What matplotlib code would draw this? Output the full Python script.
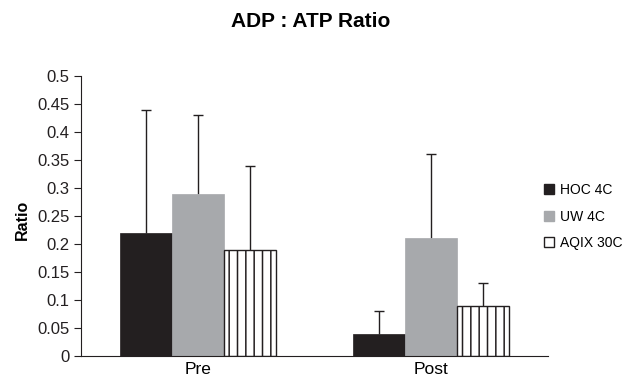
import numpy as np
import matplotlib
matplotlib.use("Agg")
import matplotlib.pyplot as plt
from matplotlib.patches import Patch

plt.rcParams.update({
    "font.family": ["Liberation Sans", "DejaVu Sans"],
    "font.size": 12,
    "hatch.linewidth": 1.1,
})

# ---------------------------------------------------------------------------
# Data
# ---------------------------------------------------------------------------
groups = ["Pre", "Post"]
series = ["HOC 4C", "UW 4C", "AQIX 30C"]
hoc = [0.22, 0.04]
uw = [0.29, 0.21]
aqix = [0.19, 0.09]
hoc_err = [0.22, 0.04]
uw_err = [0.14, 0.15]
aqix_err = [0.15, 0.04]

yticks = [0, 0.05, 0.1, 0.15, 0.2, 0.25, 0.3, 0.35, 0.4, 0.45, 0.5]
ytick_labels = ["0", "0.05", "0.1", "0.15", "0.2", "0.25", "0.3",
                "0.35", "0.4", "0.45", "0.5"]

dark = "#231f20"
grey = "#a7a9ac"

fig = plt.figure(figsize=(6.22, 3.82), dpi=100)
ax = fig.add_axes([0.130, 0.068, 0.751, 0.733])

x = np.arange(len(groups))
w = 0.223

ax.bar(x - w, hoc, w, color=dark, edgecolor=dark, linewidth=0.5,
       label=series[0], zorder=2)
ax.bar(x, uw, w, color=grey, edgecolor=grey, linewidth=0.5,
       label=series[1], zorder=2)
ax.bar(x + w, aqix, w, color="white", edgecolor=dark, linewidth=1.0,
       hatch="||", label=series[2], zorder=2)

# upper-only error bars, cap drawn just at the top
for xs, vals, errs in [(x - w, hoc, hoc_err), (x, uw, uw_err),
                       (x + w, aqix, aqix_err)]:
    vals = np.asarray(vals)
    errs = np.asarray(errs)
    ax.errorbar(xs, vals, yerr=[np.zeros_like(errs), errs], fmt="none",
                ecolor=dark, elinewidth=1.0, capsize=0, zorder=1)
    ax.plot(xs, vals + errs, ls="none", marker="_", ms=7.2, mew=1.0,
            color=dark, zorder=1)

ax.set_xlim(-0.5, 1.5)
ax.set_ylim(0, 0.5)
ax.set_xticks(x)
ax.set_xticklabels(groups, fontsize=12.5)
ax.tick_params(axis="x", length=0, pad=4)
ax.set_yticks(yticks)
ax.set_yticklabels(ytick_labels, fontsize=12)
ax.tick_params(axis="y", direction="out", length=5, width=0.8, pad=3,
               colors=dark)

for side in ["top", "right"]:
    ax.spines[side].set_visible(False)
ax.spines["left"].set_color(dark)
ax.spines["bottom"].set_color(dark)

ax.set_ylabel("Ratio", fontsize=11.5, fontweight="bold")
ax.yaxis.set_label_coords(-0.11, 0.486)

fig.suptitle("ADP : ATP Ratio", fontsize=15, fontweight="bold", y=0.968)

handles = [
    Patch(facecolor=dark, edgecolor=dark, label=series[0]),
    Patch(facecolor=grey, edgecolor=grey, label=series[1]),
    Patch(facecolor="white", edgecolor=dark, linewidth=1.0, label=series[2]),
]
fig.legend(handles=handles, loc="center left",
           bbox_to_anchor=(0.855, 0.433), frameon=False, fontsize=10,
           handlelength=0.7, handleheight=0.7, handletextpad=0.4,
           labelspacing=0.9)

fig.savefig("out.png", dpi=100)
